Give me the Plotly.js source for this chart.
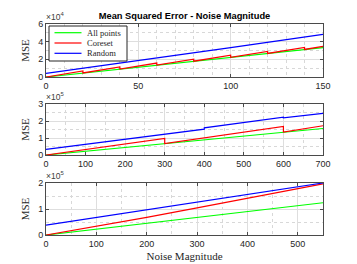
<!DOCTYPE html>
<html>
<head>
<meta charset="utf-8">
<script src="https://cdn.plot.ly/plotly-3.0.1.min.js"></script>
<style>html,body{margin:0;padding:0;background:#fff;}#chart{width:357px;height:264px;}</style>
</head>
<body>
<div id="chart"></div>
<script>
// Series names
const seriesNames = ["All points", "Coreset", "Random"];

// Panel 1 (values in units of 10^4)
const p1AllX = [0, 50, 100, 150];
const p1AllY = [0, 1.10, 2.21, 3.32];
const p1CoreX = [0, 20, 20, 40, 40, 60, 60, 80, 80, 100, 100, 120, 120, 140, 140, 150];
const p1CoreY = [0, 0.69, 0.46, 1.13, 0.90, 1.58, 1.35, 2.02, 1.79, 2.46, 2.23, 2.90, 2.67, 3.35, 3.12, 3.47];
const p1RandX = [0, 50, 100, 100, 150];
const p1RandY = [0.40, 1.85, 3.25, 3.33, 4.82];

// Panel 2 (values in units of 10^5)
const p2AllX = [0, 300, 700];
const p2AllY = [0, 0.67, 1.56];
const p2CoreX = [0, 300, 300, 600, 600, 700];
const p2CoreY = [0, 0.98, 0.67, 1.68, 1.35, 1.72];
const p2RandX = [0, 300, 400, 400, 600, 600, 700];
const p2RandY = [0.33, 1.22, 1.52, 1.60, 2.23, 2.19, 2.45];

// Panel 3 (values in units of 10^5)
const p3AllX = [0, 275, 550];
const p3AllY = [0, 0.62, 1.24];
const p3CoreX = [0, 100, 200, 300, 400, 550];
const p3CoreY = [0, 0.33, 0.68, 1.04, 1.41, 1.97];
const p3RandX = [0, 275, 550];
const p3RandY = [0.38, 1.18, 2.00];

// Axis ticks
const p1XTicks = [0, 50, 100, 150];
const p1YTicks = [0, 2, 4, 6];
const p2XTicks = [0, 100, 200, 300, 400, 500, 600, 700];
const p2YTicks = [0, 1, 2, 3];
const p3XTicks = [0, 100, 200, 300, 400, 500];
const p3YTicks = [0, 1, 2];
const exponents = ["×10<sup>4</sup>", "×10<sup>5</sup>", "×10<sup>5</sup>"];

const colors = ["#00ff00", "#ff0000", "#0000ff"];
const lw = 1.2;

function tr(x, y, i, xa, ya) {
  return {x: x, y: y, type: 'scatter', mode: 'lines', name: seriesNames[i],
    line: {color: colors[i], width: lw}, xaxis: xa, yaxis: ya, showlegend: false,
    hoverinfo: 'skip'};
}

const data = [
  tr(p1AllX, p1AllY, 0, 'x', 'y'),
  tr(p1CoreX, p1CoreY, 1, 'x', 'y'),
  tr(p1RandX, p1RandY, 2, 'x', 'y'),
  tr(p2AllX, p2AllY, 0, 'x2', 'y2'),
  tr(p2CoreX, p2CoreY, 1, 'x2', 'y2'),
  tr(p2RandX, p2RandY, 2, 'x2', 'y2'),
  tr(p3AllX, p3AllY, 0, 'x3', 'y3'),
  tr(p3CoreX, p3CoreY, 1, 'x3', 'y3'),
  tr(p3RandX, p3RandY, 2, 'x3', 'y3')
];

const W = 357, H = 264, L = 46, PW = 277;
function dom(top, bottom) { return [1 - bottom / H, 1 - top / H]; }
function px(x) { return (x - L) / PW; }
function py(y) { return 1 - y / H; }

function ax(extra) {
  return Object.assign({
    showline: true, mirror: 'ticks', linecolor: '#4a4a4a', linewidth: 1,
    ticks: 'inside', ticklen: 3, tickcolor: '#4a4a4a', tickwidth: 1,
    showgrid: true, gridcolor: '#dedede', gridwidth: 1,
    zeroline: false, fixedrange: true, automargin: false,
    tickfont: {family: 'Arial, Liberation Sans', size: 9, color: '#262626'}
  }, extra);
}
function minor(d) {
  return {dtick: d, showgrid: true, gridcolor: '#d8d8d8', griddash: 'dot', gridwidth: 1};
}

const serifTitle = {family: 'Liberation Serif, DejaVu Serif, serif', size: 11, color: '#262626'};
const legFont = {family: 'Liberation Serif, DejaVu Serif, serif', size: 8.5, color: '#262626'};
const expFont = {family: 'Arial, Liberation Sans', size: 8.5, color: '#404040'};

// custom legend (decoration, paper coords)
const legRows = [32.7, 43, 53.3];
const shapes = [
  {type: 'rect', xref: 'paper', yref: 'paper', x0: px(49), x1: px(127), y0: py(26), y1: py(61),
    line: {color: '#262626', width: 1}, fillcolor: '#ffffff', layer: 'above'}
];
const annotations = [];
legRows.forEach(function (r, i) {
  shapes.push({type: 'line', xref: 'paper', yref: 'paper', x0: px(54.5), x1: px(81.5), y0: py(r), y1: py(r),
    line: {color: colors[i], width: lw}, layer: 'above'});
  annotations.push({text: seriesNames[i], xref: 'paper', yref: 'paper', x: px(84.5), y: py(r),
    xanchor: 'left', yanchor: 'middle', showarrow: false, font: legFont});
});
['y', 'y2', 'y3'].forEach(function (a, i) {
  annotations.push({text: exponents[i], xref: 'paper', x: 0, yref: a + ' domain', y: 1, xanchor: 'left', yanchor: 'bottom',
    showarrow: false, font: expFont, xshift: -2});
});

const layout = {
  width: W, height: H,
  margin: {l: L, r: W - L - PW, t: 0, b: 0, autoexpand: false},
  paper_bgcolor: '#ffffff', plot_bgcolor: '#ffffff',
  title: {text: '<b>Mean Squared Error - Noise Magnitude</b>',
    font: {family: 'Arial, Liberation Sans', size: 9.3, color: '#000'},
    x: 0.5, xref: 'paper', xanchor: 'center', y: py(16), yref: 'paper', yanchor: 'middle', automargin: false},
  showlegend: false,
  xaxis: ax({domain: [0, 1], range: [0, 150], tickvals: p1XTicks, anchor: 'y', minor: minor(10)}),
  yaxis: ax({domain: dom(24, 77), range: [0, 6], tickvals: p1YTicks, anchor: 'x', minor: minor(1),
    title: {text: 'MSE', font: serifTitle, standoff: 6}}),
  xaxis2: ax({domain: [0, 1], range: [0, 700], tickvals: p2XTicks, anchor: 'y2', minor: minor(50)}),
  yaxis2: ax({domain: dom(104, 155), range: [0, 3], tickvals: p2YTicks, anchor: 'x2', minor: minor(0.5),
    title: {text: 'MSE', font: serifTitle, standoff: 6}}),
  xaxis3: ax({domain: [0, 1], range: [0, 550], tickvals: p3XTicks, anchor: 'y3', minor: minor(50),
    title: {text: 'Noise Magnitude', font: serifTitle, standoff: 4}}),
  yaxis3: ax({domain: dom(183, 235), range: [0, 2], tickvals: p3YTicks, anchor: 'x3', minor: minor(0.5),
    title: {text: 'MSE', font: serifTitle, standoff: 6}}),
  shapes: shapes,
  annotations: annotations
};

Plotly.newPlot('chart', data, layout, {staticPlot: true, displayModeBar: false});
</script>
</body>
</html>
